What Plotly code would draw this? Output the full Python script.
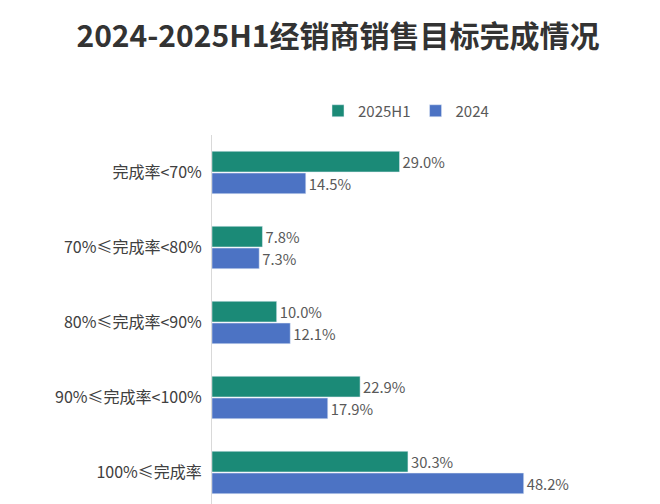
import plotly.graph_objects as go

categories = ["完成率<70%", "70%≤完成率<80%", "80%≤完成率<90%", "90%≤完成率<100%", "100%≤完成率"]
h1_2025 = [29.0, 7.8, 10.0, 22.9, 30.3]
y2024 = [14.5, 7.3, 12.1, 17.9, 48.2]

fig = go.Figure()
fig.add_trace(go.Bar(y=categories, x=h1_2025, name="2025H1", orientation="h",
                     marker_color="#1b8a77", text=[f"{v:.1f}%" for v in h1_2025],
                     textposition="outside", textfont=dict(color="#595959", size=15)))
fig.add_trace(go.Bar(y=categories, x=y2024, name="2024", orientation="h",
                     marker_color="#4c73c4", text=[f"{v:.1f}%" for v in y2024],
                     textposition="outside", textfont=dict(color="#595959", size=15)))
fig.update_layout(
    width=660, height=504, barmode="group", bargap=0.42, bargroupgap=0.05,
    plot_bgcolor="white", paper_bgcolor="white",
    font=dict(family="Noto Sans CJK SC", color="#404040"),
    title=dict(text="<b>2024-2025H1经销商销售目标完成情况</b>", x=0.5, y=0.965, xanchor="center",
               font=dict(size=30, color="#333333")),
    legend=dict(orientation="h", x=0.5, xanchor="center", y=1.02, yanchor="bottom",
                font=dict(size=15, color="#595959"), traceorder="normal"),
    margin=dict(l=204, r=68, t=127, b=2),
    xaxis=dict(range=[0, 60], visible=False),
    yaxis=dict(autorange="reversed", tickfont=dict(size=16, color="#404040"),
               ticks="", showline=True, linecolor="#d9d9d9", ticklabelstandoff=6),
)
fig.write_html("out.html")
